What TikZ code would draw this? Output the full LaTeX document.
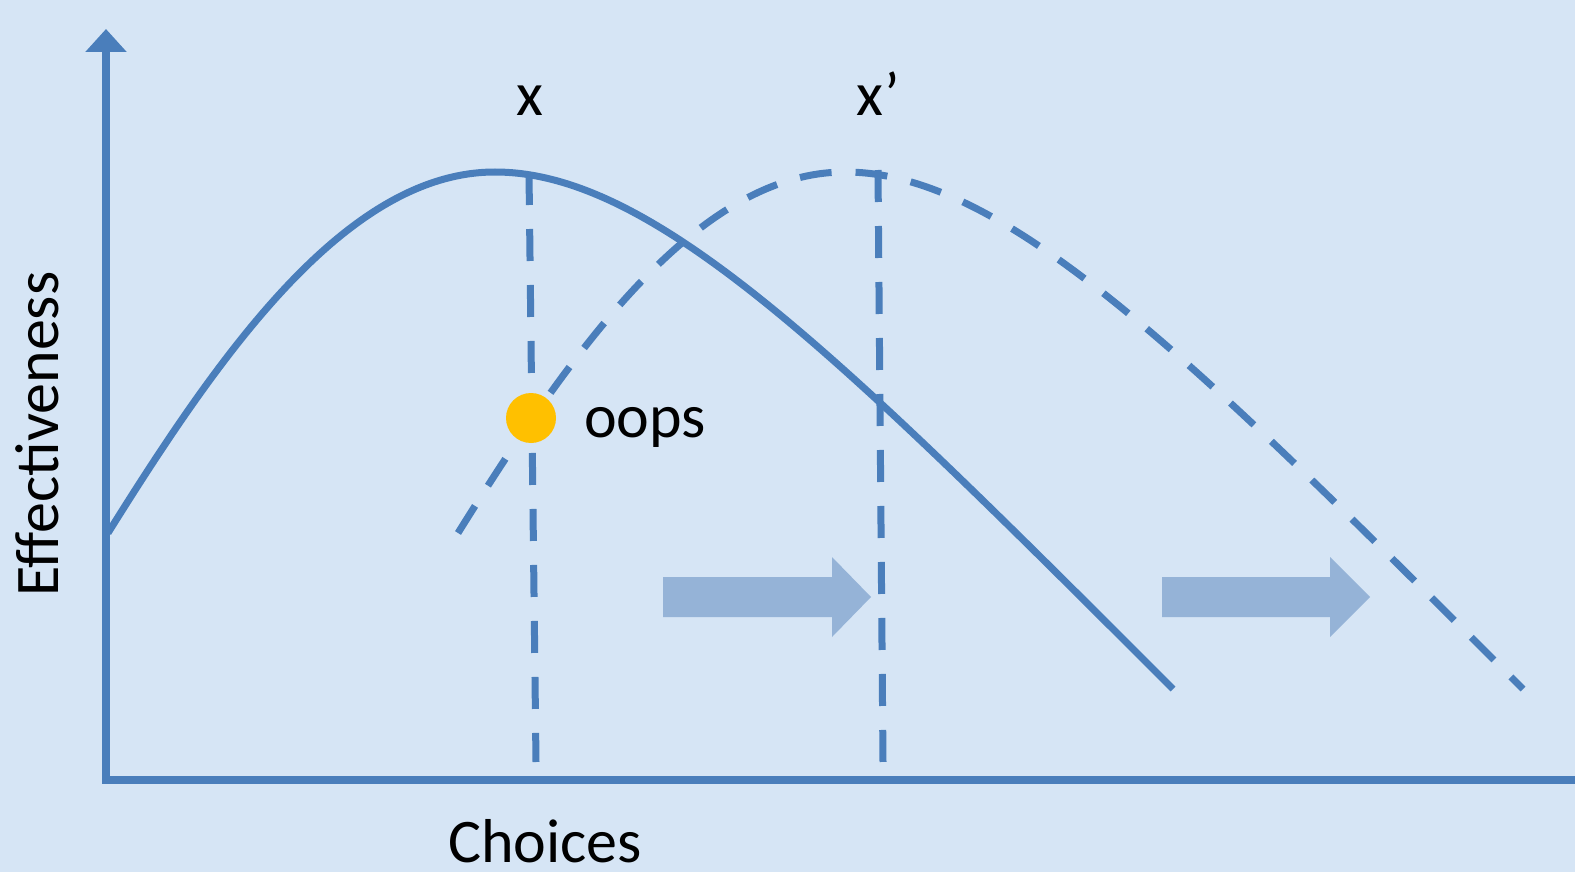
\documentclass[tikz,border=0pt]{standalone}
\usepackage{fontspec}
\setmainfont{Carlito}
\usetikzlibrary{arrows.meta}
\definecolor{bgblue}{RGB}{214,229,245}
\definecolor{lineblue}{RGB}{74,126,187}
\definecolor{arrowblue}{RGB}{149,179,215}
\definecolor{dotgold}{RGB}{255,192,0}
\begin{document}
\begin{tikzpicture}[x=1pt,y=-1pt,
  curve/.style={draw=lineblue,line width=7pt},
  dashcurve/.style={curve,dash pattern=on 32pt off 24pt},
  axisline/.style={draw=lineblue,line width=8pt},
  shiftarrow/.style={fill=arrowblue},
  lbl/.style={font=\fontsize{62}{74}\selectfont,text=black,inner sep=0pt}]
\fill[bgblue] (0,0) rectangle (1575,872);
\useasboundingbox (0,0) rectangle (1575,872);
% axes
\draw[axisline,{Triangle[length=23pt,width=40pt]}-] (106,29) -- (106,780) -- (1590,780);
% solid curve
\draw[curve] (108,533) .. controls (218,357) and (345,172) .. (495,172)
  .. controls (655,172) and (843,359) .. (1173,689);
% dashed (shifted) curve
\draw[dashcurve] (458,533) .. controls (568,357) and (695,172) .. (845,172)
  .. controls (1005,172) and (1193,359) .. (1523,689);
% vertical dashed lines
\draw[dashcurve] (529,173) -- (536,762);
\draw[dashcurve] (878,170) -- (883,762);
% block arrows
\fill[shiftarrow] (663,577) -- (832,577) -- (832,557) -- (871,597) -- (832,637) -- (832,617) -- (663,617) -- cycle;
\fill[shiftarrow] (1162,577) -- (1330,577) -- (1330,557) -- (1370,597) -- (1330,637) -- (1330,617) -- (1162,617) -- cycle;
% dot
\fill[dotgold] (531,418) circle[radius=25pt];
% labels
\node[lbl,anchor=base west] (xl) at (516,116) {x};
\node[lbl,anchor=base west] (xpl) at (856,116) {x’};
\node[lbl,anchor=base west] (oops) at (584,437) {oops};
\node[lbl,anchor=base] (choices) at (545,862) {Choices};
\node[lbl,anchor=base,rotate=90] (eff) at (58,434) {Effectiveness};
\end{tikzpicture}
\end{document}
